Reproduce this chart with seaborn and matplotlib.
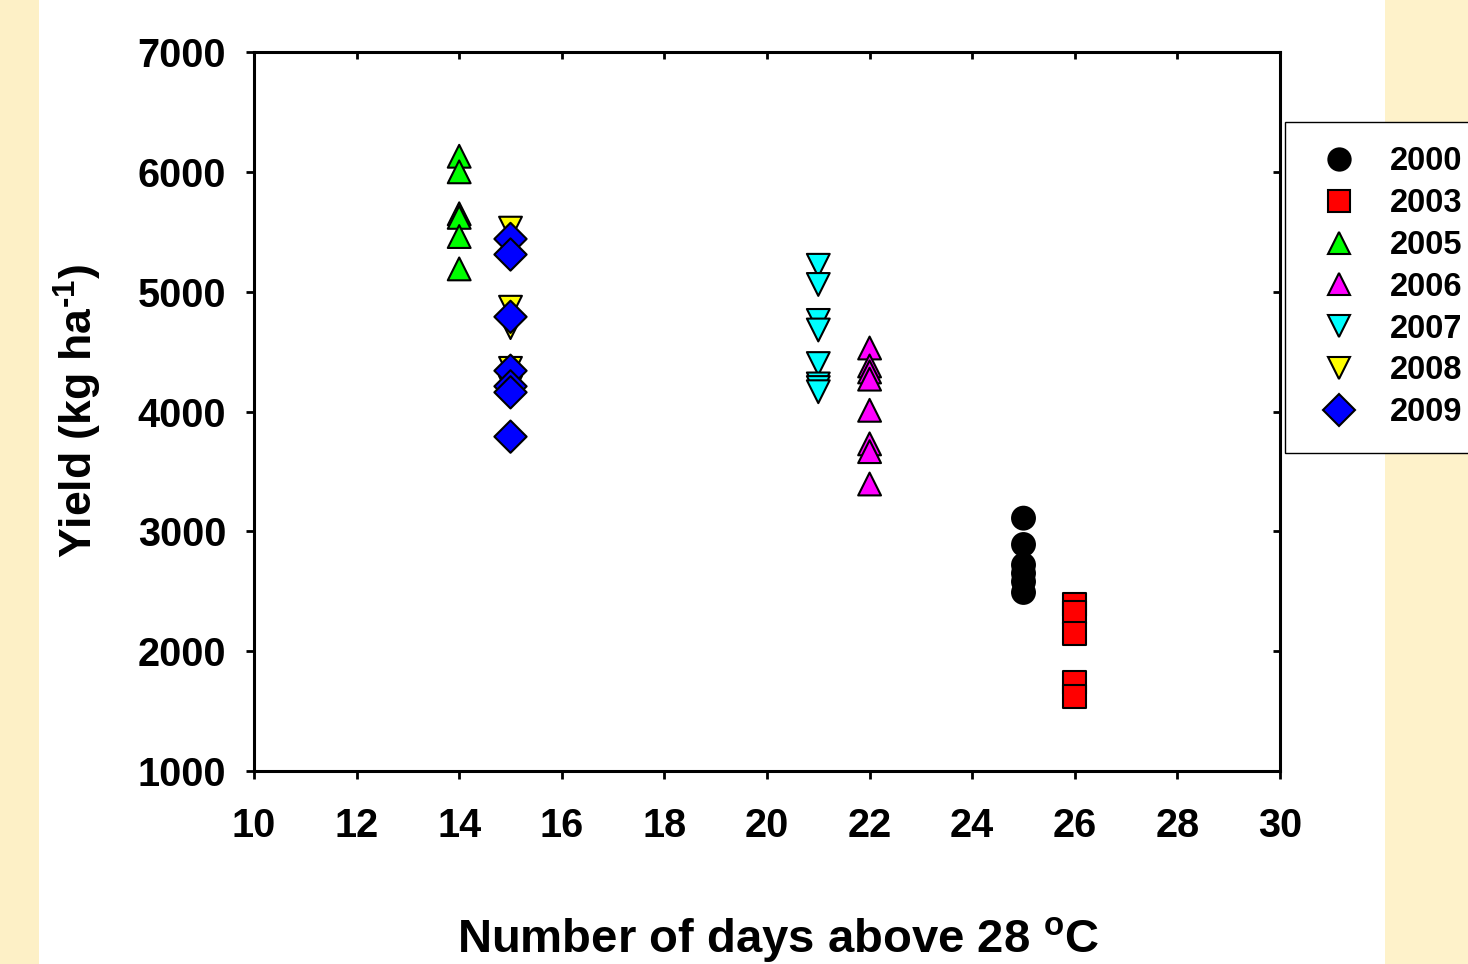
from matplotlib import pyplot as plt
from matplotlib.lines import Line2D
from matplotlib.patches import Rectangle

import pandas as pd

import seaborn as sns

# days above 28 C for each season
years = ['2000', '2003', '2005', '2006', '2007', '2008', '2009']
days = {'2000': 25, '2003': 26, '2005': 14, '2006': 22,
        '2007': 21, '2008': 15, '2009': 15}

# yields (kg/ha)
yield_2000 = [3110, 2890, 2720, 2650, 2580, 2490]
yield_2003 = [2390, 2320, 2150, 1740, 1625]
yield_2005 = [6130, 6000, 5650, 5620, 5460, 5190]
yield_2006 = [4530, 4380, 4330, 4270, 4010, 3730, 3665, 3395]
yield_2007 = [5220, 5060, 4760, 4680, 4400, 4230, 4200, 4165]
yield_2008 = [5530, 4870, 4700, 4360, 4200]
yield_2009 = [5440, 5310, 4790, 4340, 4210, 4160, 3790]

yields = {'2000': yield_2000, '2003': yield_2003, '2005': yield_2005,
          '2006': yield_2006, '2007': yield_2007, '2008': yield_2008,
          '2009': yield_2009}

colors = {'2000': '#000000', '2003': '#FF0000', '2005': '#00FF00',
          '2006': '#FF00FF', '2007': '#00FFFF', '2008': '#FFFF00',
          '2009': '#0000FF'}
markers = {'2000': 'o', '2003': 's', '2005': '^', '2006': '^',
           '2007': 'v', '2008': 'v', '2009': 'D'}

rows = []
for yr in years:
    for v in yields[yr]:
        rows.append({'year': yr, 'days': days[yr], 'yield': v})
df = pd.DataFrame(rows)

sns.set_style('ticks')
plt.rcParams['font.family'] = ['Liberation Sans', 'DejaVu Sans']
plt.rcParams['font.weight'] = 'bold'
plt.rcParams['mathtext.fontset'] = 'custom'
plt.rcParams['mathtext.rm'] = 'Liberation Sans:bold'
plt.rcParams['mathtext.default'] = 'rm'
# seaborn greys the text, the reference is plain black
plt.rcParams['text.color'] = 'black'
plt.rcParams['axes.labelcolor'] = 'black'
plt.rcParams['xtick.color'] = 'black'
plt.rcParams['ytick.color'] = 'black'

fig = plt.figure(figsize=(14.68, 9.64), dpi=100)
fig.patch.set_facecolor('white')

# pale yellow slide strips at the sides
fig.add_artist(Rectangle((0, 0), 39 / 1468, 1, transform=fig.transFigure,
                         facecolor='#FDF0C6', edgecolor='none', zorder=0))
fig.add_artist(Rectangle((1385 / 1468, 0), 83 / 1468, 1,
                         transform=fig.transFigure,
                         facecolor='#FEF2CA', edgecolor='none', zorder=0))

ax = fig.add_axes([254 / 1468, 1 - 771 / 964, 1026 / 1468, 719 / 964])

sns.scatterplot(data=df, x='days', y='yield', hue='year', style='year',
                palette=colors, markers=markers, hue_order=years,
                style_order=years, s=270, edgecolor='black', linewidth=1.5,
                legend=False, ax=ax, zorder=3)

ax.set_xlim(10, 30)
ax.set_ylim(1000, 7000)
ax.set_xticks(range(10, 31, 2))
ax.set_yticks(range(1000, 7001, 1000))

for side in ['top', 'bottom', 'left', 'right']:
    ax.spines[side].set_linewidth(2.2)
    ax.spines[side].set_color('black')

ax.tick_params(axis='both', direction='out', length=6, width=2,
               labelsize=28.5, top=False, right=False)
ax.tick_params(axis='x', pad=20)
ax.tick_params(axis='y', pad=14)

# inward ticks on top and right
sec_x = ax.secondary_xaxis('top')
sec_x.set_xticks(range(10, 31, 2))
sec_x.tick_params(direction='in', length=5, width=2, labeltop=False)
sec_y = ax.secondary_yaxis('right')
sec_y.set_yticks(range(1000, 7001, 1000))
sec_y.tick_params(direction='in', length=5, width=2, labelright=False)

for lbl in ax.get_xticklabels() + ax.get_yticklabels():
    lbl.set_fontweight('bold')

ax.set_xlabel(r'Number of days above 28 $^{\mathrm{o}}$C', fontsize=34,
              fontweight='bold', labelpad=50)
ax.xaxis.label.set_x(0.511)
ax.set_ylabel('Yield (kg ha$^{\u2010' + '1}$)', fontsize=32,
              fontweight='bold', labelpad=24)

handles = [Line2D([], [], linestyle='none', marker=markers[yr],
                  markersize=16, markerfacecolor=colors[yr],
                  markeredgecolor='black', markeredgewidth=1.5)
           for yr in years]
leg = ax.legend(handles, years, loc='upper left',
                bbox_to_anchor=(1285 / 1468, 1 - 122 / 964),
                bbox_transform=fig.transFigure, borderaxespad=0,
                fontsize=23.5, frameon=True, fancybox=False, framealpha=1,
                edgecolor='black', borderpad=0.75, handlelength=1.8,
                handletextpad=0.65, labelspacing=0.33)
leg.get_frame().set_linewidth(1.0)
for t in leg.get_texts():
    t.set_fontweight('bold')

plt.savefig('out.png', dpi=100)
plt.close(fig)
